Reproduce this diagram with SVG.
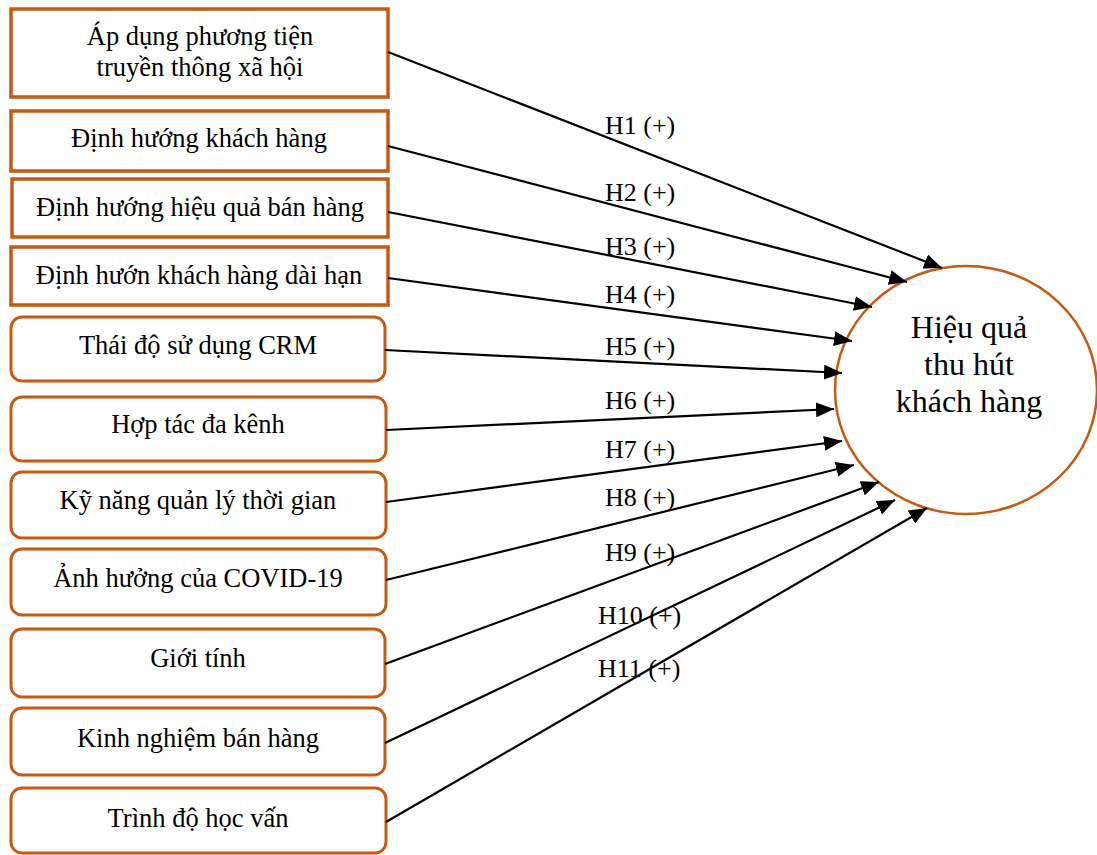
<svg xmlns="http://www.w3.org/2000/svg" width="1097" height="855" viewBox="0 0 1097 855">
<defs>
<style>
.sq{fill:#fff;stroke:#C55A11;stroke-width:3.5}
.rd{fill:#fff;stroke:#C55A11;stroke-width:3}
.lb{font-family:"Liberation Serif","Times New Roman",serif;font-size:26.5px;fill:#000;text-anchor:middle}
.hl{font-family:"Liberation Serif","Times New Roman",serif;font-size:26px;fill:#000}
.ct{font-family:"Liberation Serif","Times New Roman",serif;font-size:32px;fill:#000;text-anchor:middle}
.cn{stroke:#000;stroke-width:2.2;fill:none;marker-end:url(#ah)}
</style>
<marker id="ah" markerUnits="userSpaceOnUse" markerWidth="19" markerHeight="15" refX="18" refY="7.5" orient="auto">
<path d="M0,0 L18,7.5 L0,15 Z" fill="#000"/>
</marker>
</defs>
<rect width="1097" height="855" fill="#fff"/>
<g id="n1"><rect class="sq" x="11" y="9" width="377" height="88"/><text class="lb" x="200" y="45">Áp dụng phương tiện</text><text class="lb" x="200" y="76">truyền thông xã hội</text></g>
<g id="n2"><rect class="sq" x="11" y="111" width="377" height="60"/><text class="lb" x="199" y="147">Định hướng khách hàng</text></g>
<g id="n3"><rect class="sq" x="12" y="179" width="376" height="58"/><text class="lb" x="200" y="216">Định hướng hiệu quả bán hàng</text></g>
<g id="n4"><rect class="sq" x="11" y="247" width="377" height="58"/><text class="lb" x="199" y="284">Định hướn khách hàng dài hạn</text></g>
<g id="n5"><rect class="rd" x="11" y="317" width="374" height="64" rx="11"/><text class="lb" x="198" y="354">Thái độ sử dụng CRM</text></g>
<g id="n6"><rect class="rd" x="11" y="397" width="375" height="64" rx="11"/><text class="lb" x="198" y="433">Hợp tác đa kênh</text></g>
<g id="n7"><rect class="rd" x="11" y="472" width="375" height="66" rx="11"/><text class="lb" x="198" y="509">Kỹ năng quản lý thời gian</text></g>
<g id="n8"><rect class="rd" x="11" y="549" width="375" height="66" rx="11"/><text class="lb" x="198" y="587">Ảnh hưởng của COVID-19</text></g>
<g id="n9"><rect class="rd" x="11" y="629" width="374" height="68" rx="11"/><text class="lb" x="198" y="667">Giới tính</text></g>
<g id="n10"><rect class="rd" x="11" y="708" width="374" height="67" rx="11"/><text class="lb" x="198" y="747">Kinh nghiệm bán hàng</text></g>
<g id="n11"><rect class="rd" x="11" y="788" width="375" height="65" rx="11"/><text class="lb" x="198" y="827">Trình độ học vấn</text></g>
<g id="target"><ellipse cx="966" cy="390" rx="131" ry="124" fill="#fff" stroke="#C55A11" stroke-width="2.5"/><text class="ct" x="969" y="338">Hiệu quả</text><text class="ct" x="969" y="375">thu hút</text><text class="ct" x="969" y="412">khách hàng</text></g>
<g id="connectors">
<line class="cn" x1="388" y1="52" x2="942" y2="268"/>
<line class="cn" x1="388" y1="146" x2="907" y2="282"/>
<line class="cn" x1="388" y1="212" x2="872" y2="307"/>
<line class="cn" x1="388" y1="278" x2="852" y2="341"/>
<line class="cn" x1="385" y1="350" x2="842" y2="373"/>
<line class="cn" x1="386" y1="430" x2="834" y2="409"/>
<line class="cn" x1="386" y1="502" x2="842" y2="441"/>
<line class="cn" x1="386" y1="580" x2="854" y2="465"/>
<line class="cn" x1="385" y1="664" x2="879" y2="482"/>
<line class="cn" x1="385" y1="743" x2="895" y2="500"/>
<line class="cn" x1="386" y1="822" x2="927" y2="508"/>
</g>
<g id="labels">
<text class="hl" x="605" y="134">H1 (+)</text>
<text class="hl" x="605" y="201">H2 (+)</text>
<text class="hl" x="605" y="255">H3 (+)</text>
<text class="hl" x="605" y="303">H4 (+)</text>
<text class="hl" x="605" y="355">H5 (+)</text>
<text class="hl" x="605" y="409">H6 (+)</text>
<text class="hl" x="605" y="458">H7 (+)</text>
<text class="hl" x="605" y="506">H8 (+)</text>
<text class="hl" x="605" y="561">H9 (+)</text>
<text class="hl" x="598" y="624">H10 (+)</text>
<text class="hl" x="598" y="677">H11 (+)</text>
</g>
</svg>
